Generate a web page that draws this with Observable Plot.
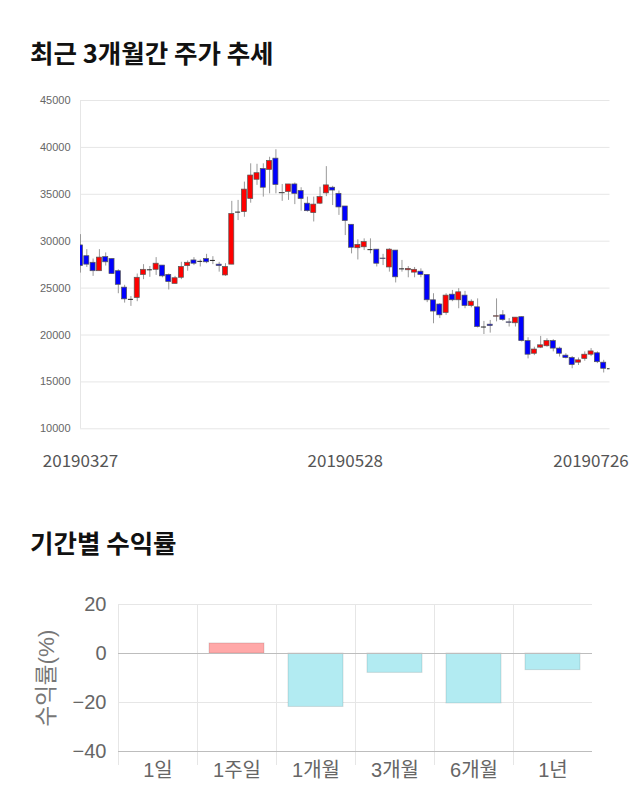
<!DOCTYPE html>
<html><head><meta charset="utf-8">
<script src="https://cdn.jsdelivr.net/npm/d3@7"></script>
<script src="https://cdn.jsdelivr.net/npm/@observablehq/plot@0.6"></script>
<style>
body{margin:0;background:#fff;width:640px;height:810px;position:relative;overflow:hidden;font-family:"Noto Sans CJK KR",sans-serif;}
.title{position:absolute;left:30px;font-size:25.5px;font-weight:700;line-height:25.5px;color:#111;white-space:nowrap;}
#c1{position:absolute;left:0;top:80px;}
#c2{position:absolute;left:0;top:585px;}
</style></head><body>
<div class="title" style="top:38.5px">최근 3개월간 주가 추세</div>
<div id="c1"></div>
<div class="title" style="top:529px">기간별 수익률</div>
<div id="c2"></div>
<script>
const dates = [
"20190327","20190328","20190329",
"20190401","20190402","20190403","20190404","20190405","20190408","20190409","20190410","20190411","20190412",
"20190415","20190416","20190417","20190418","20190419","20190422","20190423","20190424","20190425","20190426","20190429","20190430",
"20190502","20190503","20190507","20190508","20190509","20190510","20190513","20190514","20190515","20190516","20190517",
"20190520","20190521","20190522","20190523","20190524","20190527","20190528","20190529","20190530","20190531",
"20190603","20190604","20190605","20190607","20190610","20190611","20190612","20190613","20190614",
"20190617","20190618","20190619","20190620","20190621","20190624","20190625","20190626","20190627","20190628",
"20190701","20190702","20190703","20190704","20190705","20190708","20190709","20190710","20190711","20190712",
"20190715","20190716","20190717","20190718","20190719","20190722","20190723","20190724","20190725","20190726"];
const open  = [29550,28400,27700,26800,28300,28100,26800,25050,23800,23950,26400,26950,26950,27400,26400,25450,26100,27350,27950,27850,28100,27950,27500,26350,27500,33100,33100,34500,36550,37700,37600,38800,35100,35250,36050,35350,34000,33000,34000,35100,35700,35050,33700,31750,29250,29350,29100,29100,28150,27200,29000,27050,26900,26650,26750,26400,23700,23250,22350,24300,23700,24200,23100,22950,20850,21100,21950,22100,21350,21250,21900,19350,18000,18650,18800,19350,18550,17800,17550,17050,17450,17900,18050,17050,16400];
const high  = [30700,29100,28100,29100,28750,28150,26950,25300,24100,26500,27500,27300,28250,27400,26500,26250,27750,27900,28250,28000,28600,28350,27750,27600,34250,34350,36300,38250,38200,38250,38950,39750,36050,36050,36200,35700,34700,34700,35750,37950,35850,35350,33700,31750,30150,30250,30250,29100,28600,29200,29000,27950,27300,27200,27050,26400,24400,23350,24400,24750,24950,24650,23750,23850,21450,21550,23850,22600,21750,21850,21950,19700,18700,19850,19600,19500,18700,18000,17700,17550,18200,18550,18200,17300,16450];
const low   = [26600,27200,26250,26800,27350,26450,24400,23400,23050,23550,25900,26150,26350,26100,24800,25450,25900,26800,27400,27250,27600,27500,26700,26250,27500,32200,32550,34050,35950,34700,35050,35050,34250,34350,33900,33200,33100,32050,33900,34750,33800,32750,30600,28650,28000,29000,28650,27250,27400,26700,25550,26700,26100,26100,26100,23450,21200,21750,22100,23550,22800,22800,22900,20750,20050,20200,21400,21450,20850,20850,19250,17450,17800,18550,18700,18200,17650,17450,16400,16750,17200,17700,16950,15950,16350];
const close = [27350,27500,26800,28250,27750,26500,25350,23800,23800,26100,26950,26950,27600,26250,25650,26050,27250,27700,27600,27850,27750,27950,27350,27250,32900,33100,35500,37000,37250,35700,38550,36000,35150,36050,35050,34500,33200,33900,34700,35950,35400,33600,32150,29300,29600,29900,29100,27600,28100,29100,26150,27050,27050,26950,26400,23700,22500,22100,24200,23700,24550,23100,23550,20850,20850,20950,22000,21600,21300,21850,19350,17900,18450,18900,19350,18550,18000,17550,16800,17300,17900,18250,17100,16400,16400];
const priceTicks = [10000,15000,20000,25000,30000,35000,40000,45000];
const dateTicks = ["20190327","20190528","20190726"];

const periods = ["1일","1주일","1개월","3개월","6개월","1년"];
const returns = [0, 4.1, -21.8, -7.9, -20.4, -6.8];
const returnTicks = [20, 0, -20, -40];

const candles = dates.map((d, i) => ({date: d, open: open[i], high: high[i], low: low[i], close: close[i]}));
const bodies = candles.filter(d => d.open !== d.close);
const dojis = candles.filter(d => d.open === d.close);

const x0 = 80, x1 = 609.5;
const step = (x1 - x0) / (dates.length - 1);

const chart1 = Plot.plot({
  width: 640, height: 400,
  marginTop: 20, marginBottom: 51.7, marginLeft: 80, marginRight: 30.5,
  style: {fontFamily: "'Liberation Sans','Noto Sans CJK KR',sans-serif", background: "transparent"},
  color: {type: "identity"},
  x: {type: "band", domain: dates, range: [x0 - step / 2, x1 + step / 2], paddingInner: 0.2, paddingOuter: 0.1, round: false},
  y: {domain: [10000, 45000]},
  marks: [
    Plot.ruleY(priceTicks, {stroke: "#e6e6e6"}),
    Plot.ruleX([dates[0]], {stroke: "#e6e6e6"}),
    Plot.axisY(priceTicks, {tickSize: 0, tickPadding: 10, fontSize: 11, fill: "#666", label: null, tickFormat: d => String(d)}),
    Plot.ruleX(candles, {x: "date", y1: "low", y2: "high", stroke: "#999", clip: true}),
    Plot.barY(bodies, {x: "date", y1: "open", y2: "close", fill: d => d.close > d.open ? "#ff0000" : "#0000ff", stroke: "#555", strokeWidth: 0.7, clip: true}),
    Plot.tickY(dojis, {x: "date", y: "close", stroke: "#222", clip: true}),
    Plot.axisX(dateTicks.slice(0, 2), {tickSize: 0, tickPadding: 26, fontSize: 17, fill: "#555", label: null, fontFamily: "'Noto Sans CJK KR'"}),
    Plot.axisX(dateTicks.slice(2), {tickSize: 0, tickPadding: 26, fontSize: 17, fill: "#555", label: null, dx: -19, fontFamily: "'Noto Sans CJK KR'"})
  ]
});
document.getElementById("c1").append(chart1);

const rets = periods.map((p, i) => ({period: p, value: returns[i]}));
const bw = (640 - 118 - 48) / periods.length;
const chart2 = Plot.plot({
  width: 640, height: 220,
  marginTop: 19, marginBottom: 54, marginLeft: 118, marginRight: 48,
  style: {fontFamily: "'Liberation Sans','Noto Sans CJK KR',sans-serif", background: "transparent"},
  color: {type: "identity"},
  x: {type: "band", domain: periods, padding: 0, round: false},
  y: {domain: [-40, 20]},
  marks: [
    Plot.ruleY([20, -20], {stroke: "#e6e6e6"}),
    Plot.ruleX(periods, {x: d => d, dx: -bw / 2, stroke: "#e6e6e6", insetBottom: -14}),
    Plot.barY(rets, {x: "period", y: "value", fill: d => d.value > 0 ? "#ffa8a8" : "#b2ebf2", stroke: "rgba(0,0,0,0.12)", insetLeft: 12, insetRight: 12}),
    Plot.ruleY([0, -40], {stroke: "#bdbdbd"}),
    Plot.axisY(returnTicks, {tickSize: 0, tickPadding: 12, fontSize: 20, fill: "#666", label: null}),
    Plot.axisY([], {tickSize: 0, fontSize: 22.5, fill: "#777", label: "수익률(%)", labelAnchor: "center", labelOffset: 80, labelArrow: "none"}),
    Plot.axisX(periods, {tickSize: 0, tickPadding: 11, fontSize: 20, fill: "#666", label: null})
  ]
});
document.getElementById("c2").append(chart2);
</script>
</body></html>
